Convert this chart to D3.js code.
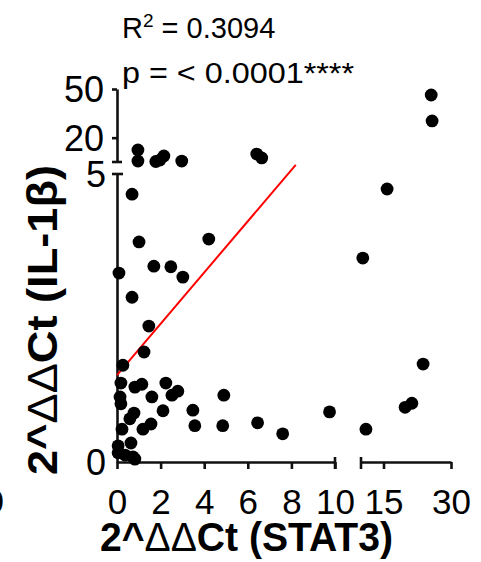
<!DOCTYPE html>
<html>
<head>
<meta charset="utf-8">
<script src="https://cdn.jsdelivr.net/npm/d3@7"></script>
<style>
  body { margin: 0; background: #fff; }
  svg { display: block; font-family: "Liberation Sans", Arial, sans-serif; }
</style>
</head>
<body>
<div id="chart"></div>
<script>
// STAT3 vs IL-1b scatter, broken axes (GraphPad style)

// data
var stat3 = [0.96, 0.96, 1.78, 1.97, 2.15, 2.97, 6.41, 6.64, 25.6, 25.8,
    0.69, 1.01, 4.21, 15.8, 10.4, 23.8, 21.3, 19.8, 11.1,
    0.09, 1.69, 2.47, 3.02, 0.69, 1.46, 1.24, 0.27,
    0.18, 0.82, 1.14, 2.24, 1.60, 2.52, 2.79, 0.14, 0.18, 0.78, 0.59,
    2.11, 3.48, 4.90, 3.57, 4.85, 6.45, 7.60, 9.75,
    1.19, 1.56, 0.23, 0.05, 0.64, 0.05, 0.37, 0.73, 0.82];
var il1b = [12.4, 5.6, 5.3, 6.2, 8.7, 5.6, 9.9, 7.5, 46.3, 30.3,
    4.65, 3.82, 3.87, 4.74, 3.54, 1.70, 1.02, 0.95, 0.57,
    3.28, 3.40, 3.39, 3.21, 2.86, 2.36, 1.91, 1.68,
    1.37, 1.30, 1.35, 1.37, 1.13, 1.16, 1.23, 1.13, 1.01, 0.85, 0.75,
    0.89, 0.90, 1.16, 0.63, 0.63, 0.68, 0.49, 0.87,
    0.57, 0.66, 0.57, 0.28, 0.33, 0.16, 0.12, 0.09, 0.05];

var xTicksLeft = [0, 2, 4, 6, 8, 10];
var xTicksRight = [15, 30];
var yTicksLow = [0, 5];
var yTicksHigh = [20, 50];

// linear regression line (lower panel coords)
var fitIntercept = 1.51;
var fitSlope = 0.445;
var fitRange = [0, 8.2];

var width = 481, height = 562;

var svg = d3.select("#chart").append("svg")
    .attr("width", width)
    .attr("height", height);

// scales for each axis segment
var xLeft = d3.scaleLinear().domain([0, 10]).range([117, 335]);
var xRight = d3.scaleLinear().domain([10, 30]).range([361, 451]);
var yLow = d3.scaleLinear().domain([0, 5]).range([462, 174]);
var yHigh = d3.scaleLinear().domain([5, 50]).range([162, 89]);

function px(v){ return v <= 10 ? xLeft(v) : xRight(v); }
function py(v){ return v <= 5 ? yLow(v) : yHigh(v); }

var axisColor = "#111";
var fmt = d3.format("d");

// x axis, left piece
var gxl = svg.append("g")
    .attr("transform", "translate(0," + yLow(0) + ")")
    .call(d3.axisBottom(xLeft).tickValues(xTicksLeft).tickFormat(fmt).tickSize(7).tickSizeOuter(0).tickPadding(20));

// x axis, right piece
var gxr = svg.append("g")
    .attr("transform", "translate(0," + yLow(0) + ")")
    .call(d3.axisBottom(xRight).tickValues(xTicksRight).tickFormat(fmt).tickSize(7).tickSizeOuter(0).tickPadding(20));

// y axis, lower piece
var gyl = svg.append("g")
    .attr("transform", "translate(" + xLeft(0) + ",0)")
    .call(d3.axisLeft(yLow).tickValues(yTicksLow).tickFormat(fmt).tickSize(0).tickSizeOuter(0).tickPadding(11));

// y axis, upper piece
var gyh = svg.append("g")
    .attr("transform", "translate(" + xLeft(0) + ",0)")
    .call(d3.axisLeft(yHigh).tickValues(yTicksHigh).tickFormat(fmt).tickSize(5).tickSizeOuter(0).tickPadding(8));

[gxl, gxr, gyl, gyh].forEach(function(g){
    g.selectAll(".domain").attr("stroke", axisColor).attr("stroke-width", 2.6);
    g.selectAll(".tick line").attr("stroke", axisColor).attr("stroke-width", 2.6);
    g.selectAll(".tick text").attr("fill", "#000").attr("font-family", "Liberation Sans, Arial, sans-serif");
});
gxl.selectAll(".tick text").attr("font-size", 35);
gxr.selectAll(".tick text").attr("font-size", 35);
gyl.selectAll(".tick text").attr("font-size", 36).attr("dy", "0.36em");
gyh.selectAll(".tick text").attr("font-size", 36).attr("dy", "0.36em");

// break end caps
var caps = [
    [xLeft(10), yLow(0) - 5, xLeft(10), yLow(0) + 7],
    [xRight(10), yLow(0) - 5, xRight(10), yLow(0) + 7],
    [xLeft(0) - 5, yLow(5), xLeft(0) + 6, yLow(5)],
    [xLeft(0) - 5, yHigh(5), xLeft(0) + 5, yHigh(5)]
];
svg.selectAll(".cap").data(caps).enter().append("line")
    .attr("class", "cap")
    .attr("x1", d => d[0]).attr("y1", d => d[1])
    .attr("x2", d => d[2]).attr("y2", d => d[3])
    .attr("stroke", axisColor)
    .attr("stroke-width", 2.6);

// regression line
svg.append("line")
    .attr("x1", xLeft(fitRange[0]))
    .attr("y1", yLow(fitIntercept + fitSlope * fitRange[0]))
    .attr("x2", xLeft(fitRange[1]))
    .attr("y2", yLow(fitIntercept + fitSlope * fitRange[1]))
    .attr("stroke", "#f00")
    .attr("stroke-width", 2);

// points
svg.selectAll(".dot").data(stat3).enter().append("circle")
    .attr("class", "dot")
    .attr("cx", d => px(d))
    .attr("cy", (d, i) => py(il1b[i]))
    .attr("r", 6.4)
    .attr("fill", "#000");

// stats text
var r2 = svg.append("text")
    .attr("x", 122).attr("y", 38)
    .attr("font-size", 29)
    .attr("fill", "#000");
r2.append("tspan").text("R");
r2.append("tspan").text("2").attr("font-size", 19).attr("dy", -11);
r2.append("tspan").text(" = 0.3094").attr("dy", 11);

svg.append("text")
    .attr("x", 122).attr("y", 83)
    .attr("font-size", 29)
    .attr("textLength", 232)
    .attr("lengthAdjust", "spacingAndGlyphs")
    .attr("fill", "#000")
    .text("p = < 0.0001****");

// axis titles
var xt = svg.append("text")
    .attr("x", 100).attr("y", 551)
    .attr("font-size", 40)
    .attr("font-weight", "bold")
    .attr("textLength", 293)
    .attr("lengthAdjust", "spacingAndGlyphs")
    .attr("fill", "#000");
xt.append("tspan").text("2^");
xt.append("tspan").text("ΔΔ").attr("font-weight", "normal");
xt.append("tspan").text("Ct (STAT3)");

var yt = svg.append("text")
    .attr("transform", "translate(57,475) rotate(-90)")
    .attr("x", 0).attr("y", 0)
    .attr("font-size", 43)
    .attr("font-weight", "bold")
    .attr("textLength", 310)
    .attr("lengthAdjust", "spacingAndGlyphs")
    .attr("fill", "#000");
yt.append("tspan").text("2^");
yt.append("tspan").text("ΔΔ").attr("font-weight", "normal");
yt.append("tspan").text("Ct (IL-1β)");

// sliver of neighbouring panel label at left edge
svg.append("text")
    .attr("x", 4).attr("y", 513)
    .attr("text-anchor", "end")
    .attr("font-size", 34)
    .attr("fill", "#000")
    .text("0");
</script>
</body>
</html>
